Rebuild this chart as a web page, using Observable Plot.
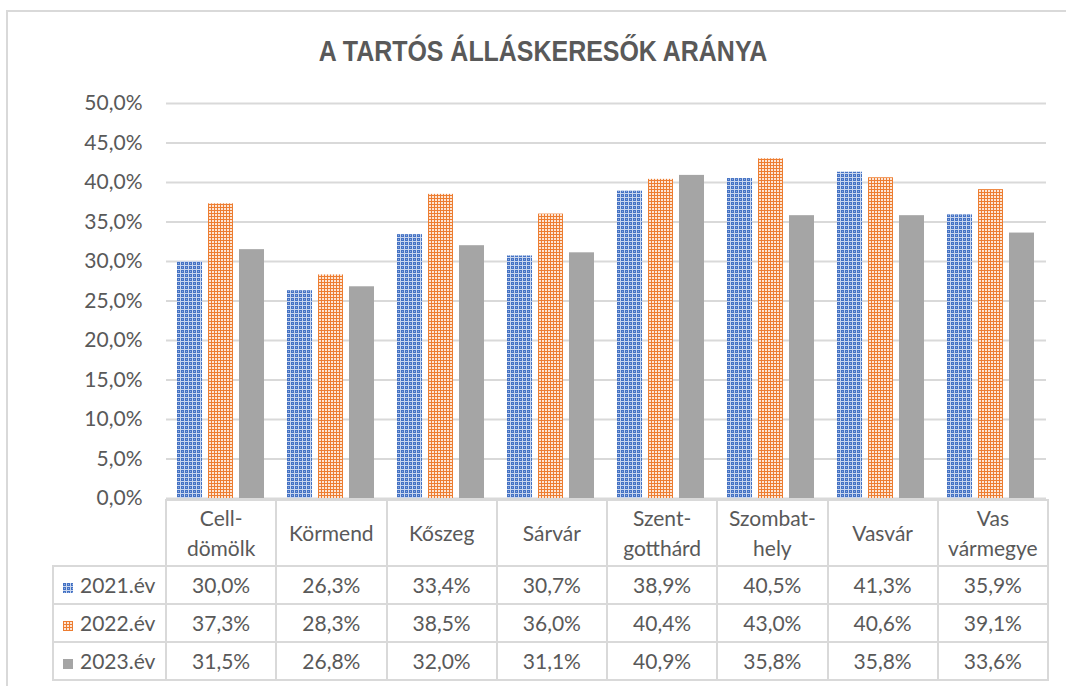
<!DOCTYPE html>
<html>
<head>
<meta charset="utf-8">
<script src="https://cdn.jsdelivr.net/npm/d3@7"></script>
<script src="https://cdn.jsdelivr.net/npm/@observablehq/plot@0.6"></script>
<style>
  html, body { margin:0; padding:0; background:#fff; overflow:hidden; width:1066px; height:686px; }
  #frame { position:absolute; left:6px; top:10px; width:1100px; height:720px; border:2px solid #d9d9d9; box-sizing:border-box; }
  #title { position:absolute; left:0; top:35px; width:1086px; text-align:center; font-family:"Liberation Sans Narrow","Liberation Sans",sans-serif; font-weight:bold; font-size:29px; color:#595959; transform:scaleX(0.86); transform-origin:543px 0; }
  #chart { position:absolute; left:0; top:90px; }
  #table { position:absolute; left:52px; top:499px; border-collapse:collapse; table-layout:fixed; font-family:Lato, sans-serif; font-size:21px; color:#595959; }
  #table td { border:2px solid #d9d9d9; text-align:center; padding:0; line-height:30px; }
  #table tr.head td { height:64px; }
  #table tr.row td { height:36px; }
  #table td.corner { border-top:none; border-left:none; }
  #table td.leg { text-align:left; padding-left:9px; white-space:nowrap; }
  .sw { display:inline-block; width:10px; height:10px; margin-right:7px; vertical-align:0px; }
</style>
</head>
<body>
<svg width="0" height="0" style="position:absolute">
  <defs>
    <pattern id="patBlue" patternUnits="userSpaceOnUse" width="4" height="4">
      <rect width="4" height="4" fill="#c9d6ee"></rect>
      <rect width="3" height="3" fill="#4472C4"></rect>
      <rect x="1" y="1" width="1" height="1" fill="#8faadc"></rect>
    </pattern>
    <pattern id="patOrange" patternUnits="userSpaceOnUse" width="3" height="3">
      <rect width="3" height="3" fill="#ED7D31"></rect>
      <rect x="1" y="1" width="2" height="2" fill="#fde6d6"></rect>
    </pattern>
  </defs>
</svg>
<div id="frame"></div>
<div id="title">A TARTÓS ÁLLÁSKERESŐK ARÁNYA</div>
<div id="chart"></div>
<table id="table"></table>
<script>
// ---- data ----
const categories = ["Celldömölk", "Körmend", "Kőszeg", "Sárvár", "Szentgotthárd", "Szombathely", "Vasvár", "Vas vármegye"];
const categoryLabels = [["Cell-", "dömölk"], ["Körmend"], ["Kőszeg"], ["Sárvár"], ["Szent-", "gotthárd"], ["Szombat-", "hely"], ["Vasvár"], ["Vas", "vármegye"]];
const series = ["2021.év", "2022.év", "2023.év"];
const v2021 = [30.0, 26.3, 33.4, 30.7, 38.9, 40.5, 41.3, 35.9];
const v2022 = [37.3, 28.3, 38.5, 36.0, 40.4, 43.0, 40.6, 39.1];
const v2023 = [31.5, 26.8, 32.0, 31.1, 40.9, 35.8, 35.8, 33.6];
const yTicks = [0, 5, 10, 15, 20, 25, 30, 35, 40, 45, 50];
const seriesFills = ["url(#patBlue)", "url(#patOrange)", "#A5A5A5"];

const valuesBySeries = [v2021, v2022, v2023];
const data = categories.flatMap((c, i) => series.map((s, j) => ({category: c, series: s, value: valuesBySeries[j][i]})));
const fmt = d => d.toFixed(1).replace(".", ",") + "%";

const chart = Plot.plot({
  width: 1066,
  height: 410,
  marginLeft: 165,
  marginRight: 19,
  marginTop: 13,
  marginBottom: 2,
  style: {fontFamily: "Lato, sans-serif", fontSize: "21px", color: "#595959", background: "transparent", overflow: "visible"},
  fx: {domain: categories, padding: 0, axis: null},
  x: {domain: series, paddingInner: 0.19, paddingOuter: 0.36, axis: null},
  y: {domain: [0, 50], label: null},
  color: {domain: series, range: seriesFills},
  marks: [
    Plot.ruleY(yTicks, {stroke: "#d9d9d9", strokeWidth: 2}),
    Plot.axisY({ticks: yTicks, tickFormat: fmt, tickSize: 0, tickPadding: 24, fill: "#595959", fontSize: 21, label: null}),
    Plot.barY(data, {fx: "category", x: "series", y: "value", fill: "series"})
  ]
});
document.getElementById("chart").appendChild(chart);

// ---- data table ----
const table = d3.select("#table");
const cg = table.append("colgroup");
cg.append("col").style("width", "113px");
categories.forEach(() => cg.append("col").style("width", "110.25px"));
const head = table.append("tr").attr("class", "head");
head.append("td").attr("class", "corner");
categoryLabels.forEach(lines => head.append("td").html(lines.join("<br>")));
series.forEach((s, j) => {
  const tr = table.append("tr").attr("class", "row");
  const td = tr.append("td").attr("class", "leg");
  td.append("span").attr("class", "sw").style("background", seriesFills[j].startsWith("url") ? "none" : seriesFills[j])
    .html(seriesFills[j].startsWith("url") ? `<svg width="10" height="10"><rect width="10" height="10" fill="${seriesFills[j]}"></rect></svg>` : "");
  td.append("span").text(s);
  valuesBySeries[j].forEach(v => tr.append("td").text(fmt(v)));
});
</script>
</body>
</html>
